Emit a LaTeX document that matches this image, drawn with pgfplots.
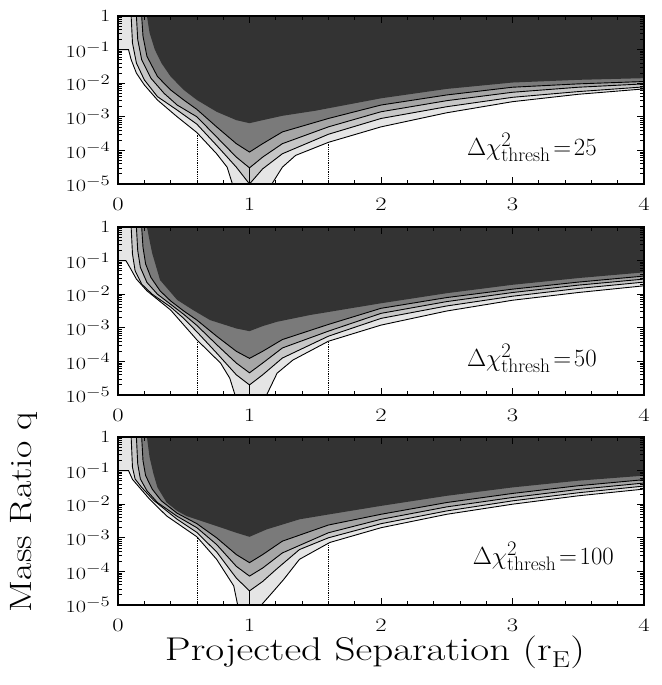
\documentclass[border=0pt]{standalone}
\usepackage{fontspec}
\usepackage{pgfplots}
\pgfplotsset{compat=1.18}
\definecolor{g0}{gray}{0.20}
\definecolor{g1}{gray}{0.48}
\definecolor{g2}{gray}{0.65}
\definecolor{g3}{gray}{0.78}
\definecolor{g4}{gray}{0.90}
\newcommand{\widen}[1]{\scalebox{1.3}[1]{#1}}
\pgfplotsset{
 panel/.style={
  scale only axis, width=526bp, height=168bp,
  anchor=north west,
  xmin=0,xmax=4,ymin=-5,ymax=0,
  xtick={0,1,2,3,4}, minor x tick num=4,
  xticklabels={\widen{0},\widen{1},\widen{2},\widen{3},\widen{4}},
  ytick={-5,-4,-3,-2,-1,0},
  yticklabels={\widen{$10^{-5}$},\widen{$10^{-4}$},\widen{$10^{-3}$},\widen{$10^{-2}$},\widen{$10^{-1}$},\widen{$1$}},
  minor ytick={-4.699,-4.523,-4.398,-4.301,-4.222,-4.155,-4.097,-4.046,
   -3.699,-3.523,-3.398,-3.301,-3.222,-3.155,-3.097,-3.046,
   -2.699,-2.523,-2.398,-2.301,-2.222,-2.155,-2.097,-2.046,
   -1.699,-1.523,-1.398,-1.301,-1.222,-1.155,-1.097,-1.046,
   -0.699,-0.523,-0.398,-0.301,-0.222,-0.155,-0.097,-0.046},
  tick align=inside, major tick length=7bp, minor tick length=4bp,
  axis on top, axis line style={line width=1.6bp},
  tick style={black, line width=0.8bp},
  xticklabel style={yshift=-7bp},
  yticklabel style={xshift=-1bp},
 },
 cont/.style={draw=black, line width=0.9bp},
}
\begin{document}
\fontsize{19}{21}\selectfont
\begin{tikzpicture}
\useasboundingbox (0,0) rectangle (662bp,-685bp);
% ---------------- panel 1 ----------------
\begin{axis}[panel, at={(118bp,-16bp)}]
\addplot[densely dotted, line width=0.8bp] coordinates {(0.6,-5) (0.6,0)};
\addplot[densely dotted, line width=0.8bp] coordinates {(1.6,-5) (1.6,0)};
\addplot[cont, fill=g4] coordinates {(0,0) (0,-1.0)(0.08,-1.0)(0.10,-1.3)(0.14,-1.7)(0.2,-2.05)(0.3,-2.5)(0.45,-3.0)(0.6,-3.47)(0.75,-4.1)(0.83,-4.5)(0.87,-5)(1.17,-5)(1.25,-4.5)(1.35,-4.15)(1.6,-3.76)(2.0,-3.3)(2.5,-2.88)(3.0,-2.55)(3.5,-2.33)(4.0,-2.17) (4,0)} -- cycle;
\addplot[cont, fill=g3] coordinates {(0.10,0)(0.11,-0.8)(0.14,-1.4)(0.2,-1.9)(0.3,-2.4)(0.45,-2.8)(0.6,-3.22)(0.75,-3.85)(0.9,-4.5)(1.0,-5)(1.1,-4.55)(1.25,-4.1)(1.6,-3.52)(2.0,-3.05)(2.5,-2.7)(3.0,-2.42)(3.5,-2.25)(4.0,-2.11) (4,0)} -- cycle;
\addplot[cont, fill=g2] coordinates {(0.14,0)(0.15,-0.7)(0.18,-1.3)(0.25,-1.85)(0.35,-2.3)(0.45,-2.65)(0.6,-3.0)(0.75,-3.6)(0.9,-4.2)(1.0,-4.52)(1.1,-4.2)(1.25,-3.8)(1.6,-3.3)(2.0,-2.85)(2.5,-2.52)(3.0,-2.27)(3.5,-2.12)(4.0,-2.02) (4,0)} -- cycle;
\addplot[cont, fill=g1] coordinates {(0.18,0)(0.19,-0.6)(0.22,-1.2)(0.3,-1.8)(0.4,-2.2)(0.5,-2.5)(0.6,-2.78)(0.75,-3.3)(0.9,-3.8)(1.0,-4.05)(1.1,-3.8)(1.25,-3.45)(1.6,-3.05)(2.0,-2.65)(2.5,-2.35)(3.0,-2.12)(3.5,-2.02)(4.0,-1.95) (4,0)} -- cycle;
\addplot[draw=none, fill=g0] coordinates {(0.22,0)(0.24,-0.5)(0.28,-1.0)(0.33,-1.4)(0.4,-1.8)(0.5,-2.2)(0.6,-2.5)(0.75,-2.85)(0.9,-3.1)(1.0,-3.19)(1.1,-3.1)(1.25,-2.97)(1.5,-2.82)(2.0,-2.45)(2.5,-2.17)(3.0,-1.98)(3.5,-1.9)(4.0,-1.85) (4,0)} -- cycle;
\addplot[cont] coordinates {(1,-4.52) (1,-5)};
\node[anchor=base east, font=\fontsize{28}{30}\selectfont] at (axis cs:3.69,-4.14) {$\Delta\chi^2_{\mathrm{thresh}}\mkern2mu{=}\mkern2mu 25$};
\end{axis}
% ---------------- panel 2 ----------------
\begin{axis}[panel, at={(118bp,-227bp)}]
\addplot[densely dotted, line width=0.8bp] coordinates {(0.6,-5) (0.6,0)};
\addplot[densely dotted, line width=0.8bp] coordinates {(1.6,-5) (1.6,0)};
\addplot[cont, fill=g4] coordinates {(0,0) (0,-1)(0.06,-1)(0.09,-1.2)(0.14,-1.55)(0.22,-1.9)(0.4,-2.47)(0.6,-3.36)(0.78,-4.05)(0.85,-4.5)(0.89,-5)(1.13,-5)(1.21,-4.35)(1.33,-3.96)(1.6,-3.4)(2.0,-2.92)(2.5,-2.5)(3.0,-2.18)(3.5,-1.95)(4.0,-1.75) (4,0)} -- cycle;
\addplot[cont, fill=g3] coordinates {(0.10,0)(0.11,-0.8)(0.13,-1.3)(0.18,-1.7)(0.26,-2.0)(0.4,-2.38)(0.5,-2.72)(0.6,-3.12)(0.75,-3.75)(0.9,-4.4)(1.0,-4.7)(1.1,-4.4)(1.25,-3.9)(1.6,-3.25)(2.0,-2.72)(2.5,-2.35)(3.0,-2.06)(3.5,-1.83)(4.0,-1.64) (4,0)} -- cycle;
\addplot[cont, fill=g2] coordinates {(0.14,0)(0.15,-0.7)(0.17,-1.2)(0.22,-1.65)(0.3,-2.0)(0.4,-2.3)(0.5,-2.6)(0.6,-2.93)(0.75,-3.5)(0.9,-4.05)(1.0,-4.34)(1.1,-4.05)(1.25,-3.6)(1.6,-3.1)(2.0,-2.57)(2.5,-2.22)(3.0,-1.95)(3.5,-1.73)(4.0,-1.55) (4,0)} -- cycle;
\addplot[cont, fill=g1] coordinates {(0.18,0)(0.19,-0.6)(0.21,-1.1)(0.25,-1.5)(0.32,-1.9)(0.4,-2.2)(0.5,-2.5)(0.6,-2.77)(0.75,-3.25)(0.9,-3.7)(1.0,-3.91)(1.1,-3.7)(1.25,-3.35)(1.6,-2.9)(2.0,-2.42)(2.5,-2.1)(3.0,-1.85)(3.5,-1.64)(4.0,-1.46) (4,0)} -- cycle;
\addplot[draw=none, fill=g0] coordinates {(0.22,0)(0.24,-0.4)(0.26,-0.78)(0.32,-1.58)(0.45,-2.17)(0.57,-2.47)(0.7,-2.77)(0.9,-3.02)(1.0,-3.1)(1.1,-2.95)(1.21,-2.82)(1.46,-2.62)(2.0,-2.27)(2.5,-1.97)(3.0,-1.72)(3.5,-1.52)(4.0,-1.35) (4,0)} -- cycle;
\addplot[cont] coordinates {(1,-4.7) (1,-4.9)};
\node[anchor=base east, font=\fontsize{28}{30}\selectfont] at (axis cs:3.69,-4.14) {$\Delta\chi^2_{\mathrm{thresh}}\mkern2mu{=}\mkern2mu 50$};
\end{axis}
% ---------------- panel 3 ----------------
\begin{axis}[panel, at={(118bp,-437bp)}]
\addplot[densely dotted, line width=0.8bp] coordinates {(0.6,-5) (0.6,0)};
\addplot[densely dotted, line width=0.8bp] coordinates {(1.6,-5) (1.6,0)};
\addplot[cont, fill=g4] coordinates {(0,0) (0,-1)(0.08,-1)(0.11,-1.26)(0.24,-1.85)(0.37,-2.35)(0.6,-2.97)(0.75,-3.64)(0.88,-4.43)(0.91,-5)(1.09,-5)(1.18,-4.6)(1.26,-4.24)(1.38,-3.64)(1.61,-3.14)(2.0,-2.7)(2.5,-2.3)(3.0,-2.0)(3.5,-1.75)(4.0,-1.55) (4,0)} -- cycle;
\addplot[cont, fill=g3] coordinates {(0.10,0)(0.11,-0.9)(0.13,-1.25)(0.18,-1.5)(0.27,-1.88)(0.45,-2.45)(0.6,-2.84)(0.75,-3.42)(0.9,-4.2)(1.0,-4.58)(1.1,-4.3)(1.2,-3.95)(1.38,-3.35)(1.6,-3.0)(2.0,-2.58)(2.5,-2.2)(3.0,-1.9)(3.5,-1.66)(4.0,-1.46) (4,0)} -- cycle;
\addplot[cont, fill=g2] coordinates {(0.14,0)(0.15,-0.8)(0.17,-1.25)(0.22,-1.6)(0.3,-1.95)(0.45,-2.36)(0.6,-2.7)(0.75,-3.2)(0.9,-3.85)(1.0,-4.14)(1.1,-3.9)(1.25,-3.45)(1.6,-2.85)(2.0,-2.45)(2.5,-2.08)(3.0,-1.8)(3.5,-1.56)(4.0,-1.37) (4,0)} -- cycle;
\addplot[cont, fill=g1] coordinates {(0.18,0)(0.19,-0.7)(0.21,-1.15)(0.26,-1.55)(0.33,-1.9)(0.45,-2.27)(0.6,-2.58)(0.75,-3.0)(0.9,-3.5)(1.0,-3.74)(1.1,-3.5)(1.25,-3.1)(1.6,-2.62)(2.0,-2.3)(2.5,-1.95)(3.0,-1.68)(3.5,-1.45)(4.0,-1.27) (4,0)} -- cycle;
\addplot[draw=none, fill=g0] coordinates {(0.22,0)(0.24,-0.6)(0.27,-1.1)(0.3,-1.5)(0.37,-1.95)(0.45,-2.2)(0.52,-2.35)(0.75,-2.65)(0.9,-2.85)(1.0,-2.97)(1.13,-2.75)(1.38,-2.45)(1.61,-2.3)(2.0,-2.05)(2.5,-1.75)(3.0,-1.5)(3.5,-1.3)(4.0,-1.15) (4,0)} -- cycle;
\addplot[cont] coordinates {(1,-4.58) (1,-5)};
\node[anchor=base east, font=\fontsize{28}{30}\selectfont] at (axis cs:3.82,-3.78) {$\Delta\chi^2_{\mathrm{thresh}}\mkern2mu{=}\mkern2mu 100$};
\end{axis}
% axis labels
\node[rotate=90, anchor=center, font=\fontsize{31}{33}\selectfont] at (24bp,-512bp) {\scalebox{1.22}[1]{Mass Ratio q}};
\node[anchor=base, font=\fontsize{33}{35}\selectfont] at (375bp,-660bp) {\scalebox{1.25}[1]{Projected Separation (r$_{\mathrm{E}}$)}};
\end{tikzpicture}
\end{document}
